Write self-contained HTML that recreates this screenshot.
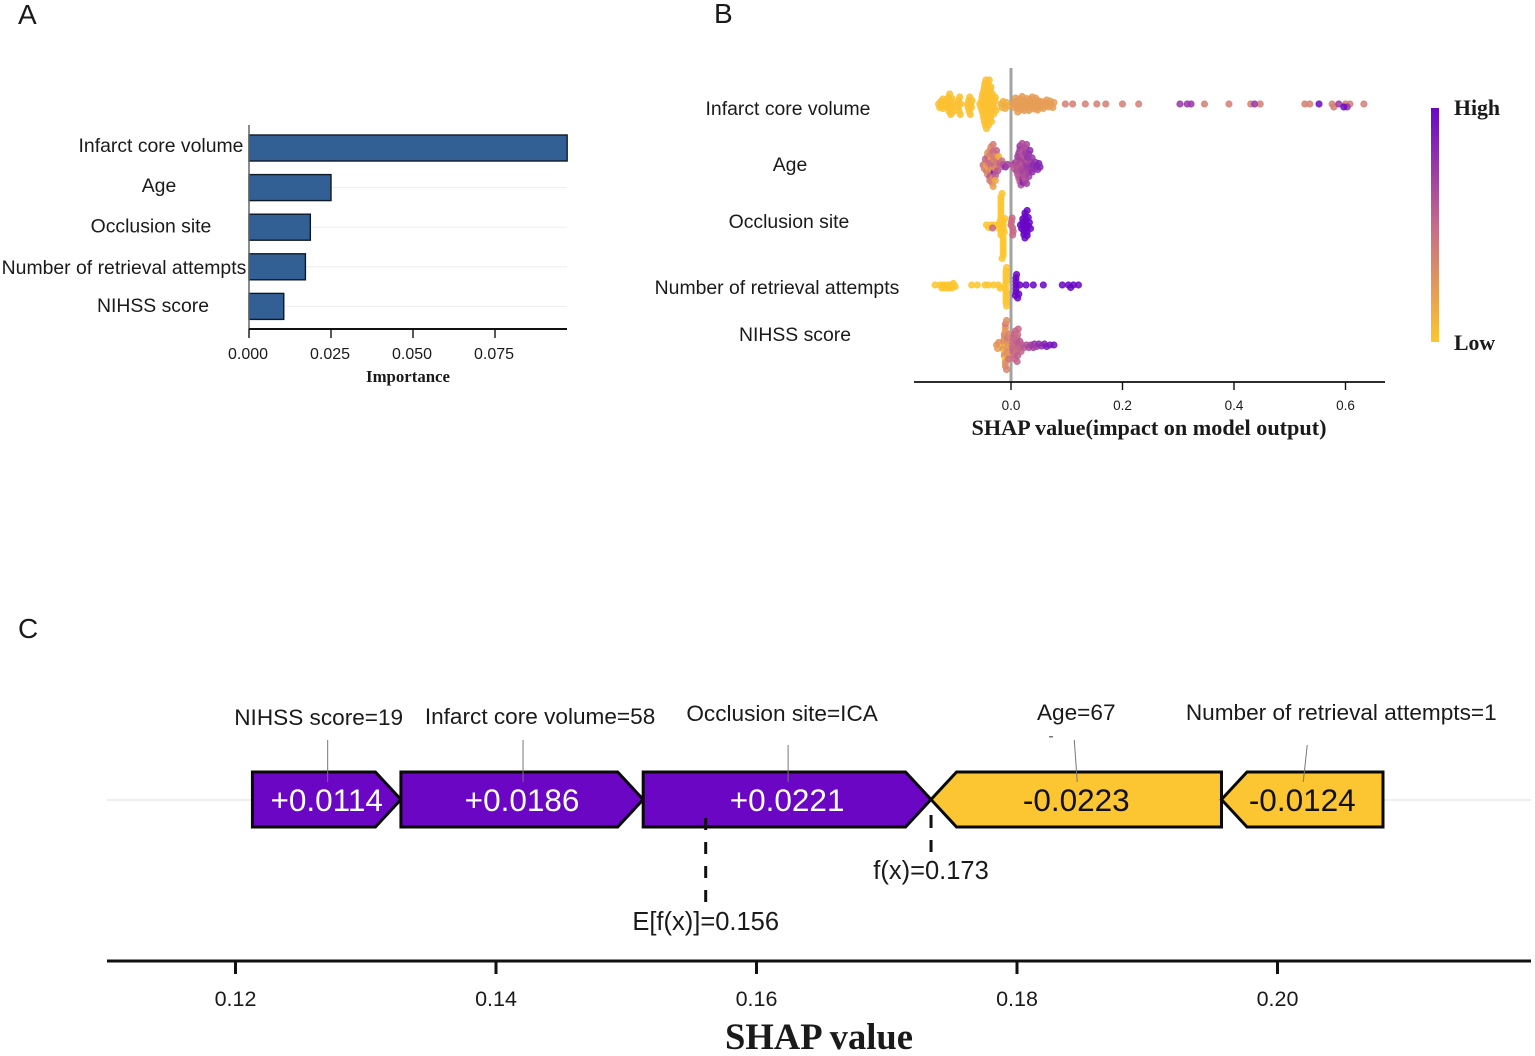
<!DOCTYPE html>
<html>
<head>
<meta charset="utf-8">
<title>SHAP figure</title>
<style>
html,body{margin:0;padding:0;background:#fff;}
svg{display:block;}
text{font-family:"Liberation Sans",sans-serif;fill:#1a1a1a;}
.serif{font-family:"Liberation Serif",serif;font-weight:bold;}
</style>
</head>
<body>
<svg id="fig" width="1535" height="1056" viewBox="0 0 1535 1056" xmlns="http://www.w3.org/2000/svg">
<defs>
<linearGradient id="cbar" x1="0" y1="0" x2="0" y2="1">
<stop offset="0" stop-color="#6a06c8"/>
<stop offset="0.5" stop-color="#c8698a"/>
<stop offset="1" stop-color="#fdc52d"/>
</linearGradient>
</defs>
<rect width="1535" height="1056" fill="#fff"/>
<text x="18" y="24" font-size="28">A</text>
<text x="714" y="23" font-size="28">B</text>
<text x="18" y="638" font-size="28">C</text>
<g id="panelA"></g>
<g id="panelB"></g>
<g id="panelC"></g>
<text class="serif" x="408" y="382" font-size="16.8" text-anchor="middle">Importance</text>
<text class="serif" x="1149" y="435" font-size="22.2" text-anchor="middle">SHAP value(impact on model output)</text>
<rect x="1431" y="108" width="8" height="234" fill="url(#cbar)"/>
<text class="serif" x="1454" y="115" font-size="21.8">High</text>
<text class="serif" x="1454" y="350" font-size="21.8">Low</text>
<text class="serif" x="819" y="1049" font-size="36.6" text-anchor="middle">SHAP value</text>
<rect x="1049" y="736" width="4" height="1.5" fill="#777"/>
</svg>
<script>
/* ---------- Panel A data ---------- */
const importanceFeatures = ['Infarct core volume','Age','Occlusion site','Number of retrieval attempts','NIHSS score'];
const importanceValues = [0.097,0.025,0.0187,0.0172,0.0106];
const importanceTicks = [0,0.025,0.05,0.075];
const importanceTickLabels = ['0.000','0.025','0.050','0.075'];

/* ---------- Panel B data ---------- */
const swarmFeatures = ['Infarct core volume','Age','Occlusion site','Number of retrieval attempts','NIHSS score'];
const swarmTicks = [0,0.2,0.4,0.6];
const swarmTickLabels = ['0.0','0.2','0.4','0.6'];

const infarctLowShap = [-.130,-.128,-.126,-.124,-.122,-.122,-.120,-.118,-.116,-.114,-.113,-.112,-.111,-.110,-.110,-.109,-.108,-.107,-.106,-.105,-.104,-.103,-.096,-.095,-.094,-.093,-.092,-.091,-.090,-.078,-.077,-.076,-.075,-.074,-.073,-.072,-.071,-.070,-.056,-.054,-.053,-.052,-.052,-.051,-.050,-.050,-.049,-.049,-.048,-.048,-.048,-.047,-.047,-.046,-.046,-.046,-.045,-.045,-.044,-.044,-.044,-.043,-.043,-.042,-.042,-.042,-.041,-.041,-.040,-.040,-.040,-.039,-.039,-.038,-.038,-.037,-.037,-.036,-.036,-.035,-.035,-.034,-.034,-.033,-.032,-.031,-.030,-.029,-.028,-.027];
const infarctNearZeroShap = [-.018,-.016,-.014,-.012,-.010,-.008,-.006];
const infarctMidShap = [.004,.006,.008,.008,.010,.012,.012,.014,.016,.016,.018,.020,.020,.022,.024,.024,.026,.028,.028,.030,.032,.032,.034,.036,.036,.038,.040,.040,.042,.044,.044,.046,.048,.048,.050,.052,.054,.056,.058,.060,.062,.064,.066,.068,.070,.072,.075,.077];
const infarctTailShap = [.0975,.1106,.1333,.154,.170,.200,.229,.347,.391,.430,.447,.527,.536,.576,.579,.600,.608,.633];
const infarctHighShap = [.303,.316,.323,.437,.588,.603];
const infarctTopShap = [.5525,.597];

const ageLowShap = [-.050,-.048,-.046,-.046,-.044,-.044,-.042,-.042,-.042,-.040,-.040,-.040,-.038,-.038,-.038,-.038,-.036,-.036,-.036,-.036,-.034,-.034,-.034,-.034,-.032,-.032,-.032,-.032,-.030,-.030,-.030,-.030,-.028,-.028,-.028,-.026,-.026,-.026,-.024,-.024,-.022,-.022,-.020,-.018,-.016,-.014,-.010,-.006];
const ageLowValue = [.45,.35,.3,.5,.2,.4,.55,.3,.25,.42,.18,.5,.35,.6,.28,.4,.5,.2,.38,.3,.45,.25,.55,.35,.3,.48,.4,.2,.5,.33,.85,.4,.3,.55,.15,.42,.3,.5,.35,.6,.4,.1,.55,.5,.45,.6,.8,.7];
const ageHighShap = [.004,.006,.008,.010,.010,.012,.012,.012,.014,.014,.014,.014,.016,.016,.016,.016,.018,.018,.018,.018,.018,.020,.020,.020,.020,.022,.022,.022,.022,.024,.024,.024,.024,.026,.026,.026,.026,.028,.028,.028,.028,.030,.030,.030,.032,.032,.032,.034,.034,.036,.036,.038,.038,.040,.042,.044,.046,.048,.050,.052];
const ageHighValue = [.6,.55,.7,.6,.65,.55,.7,.6,.65,.58,.72,.6,.62,.68,.55,.75,.6,.65,.7,.58,.62,.66,.6,.72,.64,.56,.68,.6,.85,.65,.7,.6,.62,.68,.72,.6,.66,.75,.62,.7,.65,.72,.6,.78,.68,.75,.7,.72,.8,.75,.68,.8,.75,.82,.78,.8,.85,.8,.85,.85];

const occlusionLowShap = [-.044,-.040,-.036,-.030,-.022,-.021,-.020,-.018,-.014,-.018,-.014,-.018,-.014,-.018,-.014,-.018,-.014,-.018,-.014,-.018,-.014,-.018,-.014,-.018,-.014,-.016,-.016,-.012,-.011];
const occlusionMixShap = [-.033,.000,.003,.001,.004,.002,.003];
const occlusionHighShap = [.017,.019,.021,.021,.023,.023,.023,.025,.025,.025,.027,.027,.027,.029,.029,.029,.031,.031,.033,.035];

const retrievalLowShap = [-.136,-.127,-.124,-.121,-.118,-.115,-.112,-.109,-.106,-.1035,-.100,-.0705,-.0604,-.0466,-.0406,-.0317,-.0227,-.0197,-.010,-.010,-.009,-.009,-.009,-.009,-.009,-.009,-.009,-.009,-.008,-.008];
const retrievalHighShap = [.009,.009,.009,.009,.009,.008,.010,.012,.014,.016,.027,.040,.058,.092,.103,.107,.112,.121];

const nihssLowShap = [-.026,-.024,-.022,-.014,-.014,-.014,-.012,-.012,-.012,-.012,-.010,-.010,-.010,-.010,-.010,-.010,-.008,-.008,-.008,-.008,-.008,-.006,-.006,-.006,-.004,-.004];
const nihssLowValue = [.25,.22,.28,.04,.25,.3,.05,.25,.3,.35,.03,.25,.3,.25,.3,.4,.05,.25,.3,.35,.28,.3,.4,.25,.35,.45];
const nihssHighShap = [.002,.003,.004,.004,.005,.006,.006,.007,.008,.008,.009,.010,.010,.011,.011,.012,.012,.013,.014,.015,.016,.018,.020,.024,.028,.032,.036,.040,.042,.046,.050,.055,.060,.064,.070,.077];
const nihssHighValue = [.45,.5,.48,.52,.5,.45,.55,.5,.48,.52,.5,.55,.45,.5,.52,.55,.48,.5,.55,.5,.58,.52,.55,.58,.6,.65,.7,.72,.75,.7,.8,.8,.85,.9,.9,.95];

/* ---------- Panel C data ---------- */
const forceFeatures = ['NIHSS score=19','Infarct core volume=58','Occlusion site=ICA','Age=67','Number of retrieval attempts=1'];
const forceShap = [0.0114,0.0186,0.0221,-0.0223,-0.0124];
const forceLabels = ['+0.0114','+0.0186','+0.0221','-0.0223','-0.0124'];
const forceOutput = 0.1734;
const forceBase = 0.1561;
const forceTicks = [0.12,0.14,0.16,0.18,0.20];
const forceTickLabels = ['0.12','0.14','0.16','0.18','0.20'];

/* ---------- Scales and helpers ---------- */
const NS = 'http://www.w3.org/2000/svg';
const xA = v => 249 + v * 3280;
const yA = i => 148 + i * 39.6;
const xB = v => 1011 + v * 557.5;
const rowsB = [104,165,225,285,345];
const xC = v => 235.5 + (v - 0.12) * 13025;

function make(parent, tag, attrs, txt) {
  const el = document.createElementNS(NS, tag);
  for (const k in attrs) el.setAttribute(k, attrs[k]);
  if (txt !== undefined) el.textContent = txt;
  parent.appendChild(el);
  return el;
}
function mix(a, b, t) { return a.map((c, i) => Math.round(c + (b[i] - c) * t)); }
function colorOf(v) {
  const lo = [253,197,45], mid = [200,105,138], hi = [106,6,200];
  const c = v < 0.5 ? mix(lo, mid, v * 2) : mix(mid, hi, (v - 0.5) * 2);
  return 'rgb(' + c.join(',') + ')';
}

/* ---------- Panel A ---------- */
const pA = document.getElementById('panelA');
const aLabelCx = [161,159,151,124,153];
const aLabelY = [152,192,232.5,274,312];
importanceFeatures.forEach((name, i) => {
  const grid = make(pA, 'line', {x1:249, x2:567, y1:yA(i), y2:yA(i), stroke:'#eeeeee', 'stroke-width':1});
  
  
  const bar = make(pA, 'rect', {x:xA(0), y:yA(i)-13, width:xA(importanceValues[i])-xA(0), height:26, fill:'#336094', stroke:'#0f1a28', 'stroke-width':1.4});
  
  
  const lab = make(pA, 'text', {x:aLabelCx[i], y:aLabelY[i], 'font-size':19.4, 'text-anchor':'middle'}, name);
  
  
});
const aY = make(pA, 'line', {x1:249, x2:249, y1:125, y2:329, stroke:'#666', 'stroke-width':1.5});


const aX = make(pA, 'line', {x1:249, x2:567, y1:329, y2:329, stroke:'#111', 'stroke-width':2});


importanceTicks.forEach((t, i) => {
  const tk = make(pA, 'line', {x1:xA(t), x2:xA(t), y1:329, y2:338, stroke:'#111', 'stroke-width':1.4});
  
  
  const tl = make(pA, 'text', {x:xA(t)-1, y:359, 'font-size':16, 'text-anchor':'middle', fill:'#333'}, importanceTickLabels[i]);
  
  
});

/* ---------- Panel B ---------- */
const pB = document.getElementById('panelB');
const bLabelCx = [788,790,789,777,795];
const bLabelY = [115,171,228,294,341];
swarmFeatures.forEach((name, i) => {
  const lab = make(pB, 'text', {x:bLabelCx[i], y:bLabelY[i], 'font-size':19.4, 'text-anchor':'middle'}, name);
  
  
});
const zero = make(pB, 'line', {x1:xB(0), x2:xB(0), y1:68, y2:382, stroke:'#a3a3a3', 'stroke-width':3});



const swarmSeries = [
  [[infarctLowShap,.02],[infarctNearZeroShap,.12],[infarctMidShap,.22],[infarctTailShap,.38],[infarctHighShap,.75],[infarctTopShap,.97]],
  [[ageLowShap,ageLowValue],[ageHighShap,ageHighValue]],
  [[occlusionLowShap,.0],[occlusionMixShap,.5],[occlusionHighShap,1]],
  [[retrievalLowShap,.0],[retrievalHighShap,1]],
  [[nihssLowShap,nihssLowValue],[nihssHighShap,nihssHighValue]]
];
const D = 3.3, STEP = 0.5;
swarmSeries.forEach((groups, r) => {
  const placed = [];
  groups.forEach(g => {
    const vals = g[0], col = g[1];
    vals.forEach((v, j) => {
      const px = xB(v);
      let k = 0, off = 0;
      while (true) {
        off = (k % 2 ? 1 : -1) * Math.ceil(k / 2) * STEP;
        if (placed.every(p => (p[0]-px)*(p[0]-px) + (p[1]-off)*(p[1]-off) >= D*D)) break;
        k++;
      }
      placed.push([px, off]);
      const c = colorOf(Array.isArray(col) ? col[j] : col);
      const dot = make(pB, 'circle', {cx:px, cy:rowsB[r]+off, r:3.1, fill:c, 'fill-opacity':.85, stroke:c, 'stroke-width':1, 'stroke-opacity':.8});
      
      
    });
  });
});
const bX = make(pB, 'line', {x1:914, x2:1385, y1:382, y2:382, stroke:'#111', 'stroke-width':1.8});


swarmTicks.forEach((t, i) => {
  const tk = make(pB, 'line', {x1:xB(t), x2:xB(t), y1:382, y2:390, stroke:'#111', 'stroke-width':1.4});
  
  
  const tl = make(pB, 'text', {x:xB(t), y:410, 'font-size':13.5, 'text-anchor':'middle', fill:'#333'}, swarmTickLabels[i]);
  
  
});

/* ---------- Panel C ---------- */
const pC = document.getElementById('panelC');
const base = make(pC, 'line', {x1:107, x2:1531, y1:800, y2:800, stroke:'#eeeeee', 'stroke-width':2});



const positives = forceShap.map((v, i) => i).filter(i => forceShap[i] > 0);
const negatives = forceShap.map((v, i) => i).filter(i => forceShap[i] < 0);
const segs = {};
let cur = forceOutput;
positives.slice().reverse().forEach(i => { segs[i] = [cur - forceShap[i], cur]; cur -= forceShap[i]; });
cur = forceOutput;
negatives.forEach(i => { segs[i] = [cur, cur - forceShap[i]]; cur -= forceShap[i]; });

const labelDx = [-8,18,-5,0,39];
const labelY = [725,724,721,720,720];
const connTopDx = [1,1,1,-2,5];
const connTopY = [740,740,745,740,745];
const connBotDx = [1,1,1,1,1];
forceShap.forEach((v, i) => {
  const x0 = xC(segs[i][0]), x1 = xC(segs[i][1]), top = 772, bot = 827, mid = 799.5, head = 25.5;
  const pts = v > 0
    ? [[x0,top],[x1-head,top],[x1,mid],[x1-head,bot],[x0,bot]]
    : [[x1,top],[x0+head,top],[x0,mid],[x0+head,bot],[x1,bot]];
  const poly = make(pC, 'polygon', {points:pts.map(p => p.join(',')).join(' '), fill:v > 0 ? '#6a06c4' : '#fbc632', stroke:'#0a0a0a', 'stroke-width':3, 'stroke-linejoin':'miter'});
  
  
  const cx = (x0 + x1) / 2;
  const val = make(pC, 'text', {x:cx, y:811, 'font-size':31.5, 'text-anchor':'middle', style:'fill:' + (v > 0 ? '#ffffff' : '#111111')}, forceLabels[i]);
  
  
  const conn = make(pC, 'line', {x1:cx+connTopDx[i], y1:connTopY[i], x2:cx+connBotDx[i], y2:782, stroke:'#777', 'stroke-width':1});
  
  
  const lab = make(pC, 'text', {x:cx+labelDx[i], y:labelY[i], 'font-size':22.6, 'text-anchor':'middle'}, forceFeatures[i]);
  
  
});
const eLine = make(pC, 'line', {x1:xC(forceBase), x2:xC(forceBase), y1:818, y2:902, stroke:'#111', 'stroke-width':3, 'stroke-dasharray':'12 12'});


const fLine = make(pC, 'line', {x1:xC(forceOutput), x2:xC(forceOutput), y1:815, y2:852, stroke:'#111', 'stroke-width':3, 'stroke-dasharray':'13 12'});


const eText = make(pC, 'text', {x:xC(forceBase), y:930, 'font-size':25.5, 'text-anchor':'middle'}, 'E[f(x)]=' + forceBase.toFixed(3));


const fText = make(pC, 'text', {x:xC(forceOutput), y:879, 'font-size':25.5, 'text-anchor':'middle'}, 'f(x)=' + forceOutput.toFixed(3));


const cX = make(pC, 'line', {x1:107, x2:1531, y1:961, y2:961, stroke:'#111', 'stroke-width':3});


forceTicks.forEach((t, i) => {
  const tk = make(pC, 'line', {x1:xC(t), x2:xC(t), y1:961, y2:974, stroke:'#111', 'stroke-width':3});
  
  
  const tl = make(pC, 'text', {x:xC(t), y:1006, 'font-size':21.5, 'text-anchor':'middle'}, forceTickLabels[i]);
  
  
});
</script>
</body>
</html>
